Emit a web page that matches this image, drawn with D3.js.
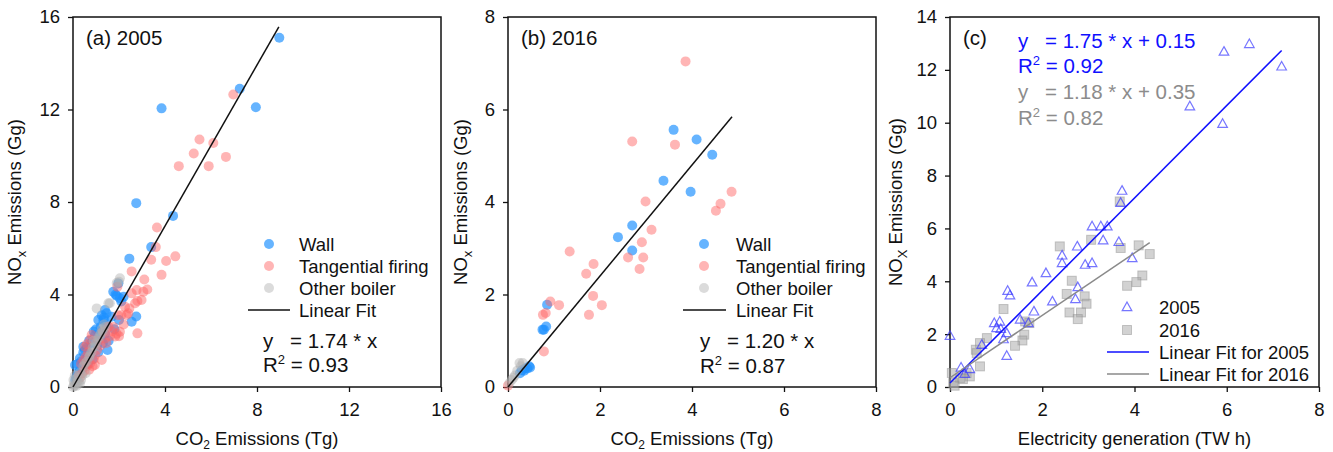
<!DOCTYPE html>
<html>
<head>
<meta charset="utf-8">
<script src="https://cdn.jsdelivr.net/npm/d3@7"></script>
<style>
  body { margin: 0; background: #fff; }
  text { font-family: "Liberation Sans", Arial, sans-serif; fill: #111; }
</style>
</head>
<body>
<svg id="chart" width="1333" height="452"></svg>
<script>
// ---- (a) 2005: NOx vs CO2 by boiler type ----
const wall2005 = [
  [8.97,15.1],[7.25,12.9],[7.95,12.1],[3.85,12.05],[2.75,7.95],[4.35,7.4],[3.4,6.05],[2.45,5.55],
  [2.75,3.05],[2.55,2.82],[1.75,4.12],[1.97,4.48],[2.04,3.84],[1.9,3.95],[2.1,3.7],[1.85,4.0],
  [1.39,3.33],[1.1,2.9],[1.32,2.9],[1.68,3.04],[1.25,3.1],[1.35,3.0],[1.45,2.7],[1.2,2.6],
  [1.0,2.5],[0.96,2.25],[0.9,2.4],[1.15,2.2],[1.3,1.9],[1.5,1.6],[1.05,1.8],[0.8,1.9],
  [0.7,2.0],[0.52,1.6],[0.6,1.7],[0.45,1.5],[0.3,1.24],[0.35,1.1],[0.2,1.0],[0.09,0.95],
  [0.23,0.6],[0.15,0.45],[0.1,0.3],[0.4,0.8],[0.55,1.2],[0.75,1.4],[0.85,1.2],[1.1,1.5],
  [1.4,2.3],[1.55,2.0],[1.8,2.5],[2.0,2.9],[0.65,1.0],[0.3,0.7],[2.2,3.9],[1.46,3.19],[0.45,1.74]
];
const tangential2005 = [
  [6.97,12.65],[5.5,10.7],[6.1,10.55],[5.25,10.1],[6.65,9.95],[4.6,9.55],[5.9,9.55],[3.65,6.9],
  [3.6,6.05],[3.4,5.5],[4.05,5.45],[4.45,5.65],[3.85,4.85],[2.55,5.0],[3.1,4.65],[2.77,4.19],
  [3.23,4.22],[2.8,3.72],[2.55,4.05],[2.45,3.4],[2.33,3.11],[2.8,2.32],[1.93,4.34],[3.06,4.12],
  [1.83,2.18],[2.04,2.39],[2.4,3.19],[2.7,3.62],[2.26,3.47],[2.98,3.76],[0.81,2.25],
  [0.52,1.74],[1.25,1.17],[0.74,1.02],[0.96,1.38],[1.54,2.61],[1.7,2.4],[1.9,2.3],[2.0,2.2],
  [1.6,2.2],[1.75,2.6],[1.4,2.1],[1.2,1.8],[1.05,1.6],[0.9,1.2],[0.6,0.9],[0.5,0.7],
  [0.7,0.75],[0.85,0.9],[0.4,0.6],[0.3,0.4],[0.55,1.3],[0.65,1.5],[1.1,2.0],[1.3,2.4],
  [0.75,2.05],[0.6,1.85],[2.1,3.1],[2.2,2.7],[1.95,3.1],[0.35,1.0],[0.45,1.15],[0.25,0.5],
  [1.45,1.9],[0.95,0.95]
];
const other2005 = [
  [2.04,4.7],[1.9,4.5],[2.0,4.55],[1.6,3.62],[1.54,3.62],[1.03,3.4],[1.1,2.1],[0.96,1.74],
  [0.74,1.38],[0.52,1.02],[0.3,0.63],[0.16,0.38],[0.06,0.05],[0.0,0.0],[0.05,0.15],[0.1,0.1],
  [0.2,0.25],[0.25,0.2],[0.35,0.3],[0.4,0.5],[0.6,1.1],[0.8,1.5],[0.85,1.7],[1.2,2.3],
  [1.3,2.4],[1.4,2.6],[1.25,2.5],[1.0,1.9],[0.7,1.3],[0.45,0.9],[0.15,0.05],[0.02,0.3],
  [0.08,0.5],[0.9,2.0],[1.15,2.2],[1.35,2.7],[0.55,0.6],[0.3,0.15]
];
const fit2005 = { slope: 1.74, intercept: 0, xEnd: 8.95, r2: "0.93" };

// ---- (b) 2016: NOx vs CO2 by boiler type ----
const wall2016 = [
  [3.6,5.56],[4.1,5.35],[4.44,5.02],[3.38,4.46],[3.97,4.22],[2.7,3.49],[2.39,3.24],[2.7,2.95],
  [0.85,1.78],[0.83,1.31],[0.75,1.24],[0.78,1.24],[0.46,0.45],[0.42,0.4],[0.37,0.4],[0.3,0.36],
  [0.48,0.42],[0.35,0.35],[0.26,0.3]
];
const tangential2016 = [
  [3.86,7.04],[2.7,5.31],[3.63,5.24],[2.99,4.01],[4.86,4.22],[4.62,3.96],[4.52,3.81],[3.12,3.4],
  [2.91,3.13],[2.94,2.8],[2.61,2.8],[2.86,2.55],[1.34,2.93],[1.86,2.66],[1.7,2.45],[1.85,1.97],
  [2.04,1.77],[1.76,1.56],[0.92,1.85],[1.11,1.77],[0.82,1.6],[0.76,1.56],[0.78,0.77],[0.0,0.03]
];
const other2016 = [
  [0.25,0.52],[0.32,0.52],[0.15,0.25],[0.08,0.15],[0.03,0.08],[0.2,0.35],[0.12,0.2],[0.28,0.45]
];
const fit2016 = { slope: 1.20, intercept: 0, xEnd: 4.87, r2: "0.87" };

// ---- (c) NOx vs electricity generation ----
const gen2005 = [
  [6.49,12.98],[5.94,12.69],[7.19,12.13],[5.2,10.62],[5.91,9.96],[3.73,7.43],[3.7,6.97],[3.08,6.08],
  [3.27,6.08],[3.41,6.08],[3.32,5.55],[3.66,5.49],[2.76,5.32],[2.43,4.98],[2.43,4.69],[3.08,4.69],
  [2.93,4.63],[3.95,4.88],[2.08,4.31],[1.78,3.96],[1.25,3.64],[1.3,3.47],[2.77,3.78],[2.72,3.33],
  [2.22,3.24],[1.82,2.86],[0.96,2.42],[1.08,2.48],[1.01,2.23],[1.1,2.2],[1.52,2.55],[1.7,2.42],
  [1.23,2.04],[1.16,1.81],[1.23,1.18],[0.0,1.94],[0.69,1.6],[0.24,0.74],[0.43,0.68],[0.32,0.5]
];
const gen2016 = [
  [3.68,7.02],[3.7,5.26],[3.06,5.57],[2.38,5.32],[4.09,5.36],[4.33,5.03],[2.64,4.02],[4.17,4.22],
  [4.04,3.97],[3.84,3.83],[2.53,3.52],[2.92,3.43],[2.96,3.15],[2.59,2.82],[2.84,2.82],[2.77,2.57],
  [1.16,2.95],[1.63,2.48],[1.72,2.42],[1.61,1.98],[1.57,1.76],[1.41,1.56],[0.8,1.85],[0.65,1.66],
  [0.56,1.41],[0.58,1.28],[0.65,0.78],[0.36,0.53],[0.22,0.34],[0.07,0.15],[0.1,0.05],[0.04,0.53],
  [0.43,0.4],[0.28,0.3]
];
const fitGen2005 = { slope: 1.75, intercept: 0.15, xEnd: 7.19, r2: "0.92" };
const fitGen2016 = { slope: 1.18, intercept: 0.35, xEnd: 4.33, r2: "0.82" };

const ticksCO2a = [0, 4, 8, 12, 16];
const ticksCO2b = [0, 2, 4, 6, 8];
const ticksGenX = [0, 2, 4, 6, 8];
const ticksGenY = [0, 2, 4, 6, 8, 10, 12, 14];

const boilerLabels = ["Wall", "Tangential firing", "Other boiler", "Linear Fit"];
const yearLabels = ["2005", "2016", "Linear Fit for 2005", "Linear Fit for 2016"];

const colors = {
  wall: "rgba(30,144,255,0.68)",
  tangential: "rgba(255,100,100,0.48)",
  other: "rgba(175,175,175,0.45)",
  tri: "rgba(60,60,255,0.7)",
  sqFill: "rgba(165,165,165,0.5)",
  sqStroke: "rgba(140,140,140,0.45)",
  blueLine: "#1010ff",
  grayLine: "#8a8a8a",
  eqGray: "#8c8c8c"
};

const svg = d3.select("#chart");
const FS = 18.5, FS_EQ = 20.5;

function makePanel(cfg) {
  const x = d3.scaleLinear().domain(cfg.xDomain).range([cfg.left, cfg.right]);
  const y = d3.scaleLinear().domain(cfg.yDomain).range([cfg.bottom, cfg.top]);
  const g = svg.append("g");

  // frame
  g.append("rect")
    .attr("x", cfg.left).attr("y", cfg.top)
    .attr("width", cfg.right - cfg.left).attr("height", cfg.bottom - cfg.top)
    .attr("fill", "none").attr("stroke", "#111").attr("stroke-width", 1.5);

  const ax = g.append("g").attr("transform", `translate(0,${cfg.bottom})`)
    .call(d3.axisBottom(x).tickValues(cfg.xTicks).tickSize(5).tickPadding(11).tickFormat(d3.format("d")));
  const ay = g.append("g").attr("transform", `translate(${cfg.left},0)`)
    .call(d3.axisLeft(y).tickValues(cfg.yTicks).tickSize(5).tickPadding(8).tickFormat(d3.format("d")));
  [ax, ay].forEach(a => {
    a.select(".domain").remove();
    a.selectAll(".tick line").attr("stroke", "#111").attr("stroke-width", 1.3);
    a.selectAll(".tick text").attr("font-size", FS).attr("font-family", "Liberation Sans, Arial, sans-serif").attr("fill", "#111");
  });

  // x title
  const xt = g.append("text").attr("x", (cfg.left + cfg.right) / 2).attr("y", 445)
    .attr("text-anchor", "middle").attr("font-size", FS);
  cfg.xTitle(xt);

  // y title
  const yt = g.append("text")
    .attr("transform", `translate(${cfg.yTitleX},${(cfg.top + cfg.bottom) / 2}) rotate(-90)`)
    .attr("text-anchor", "middle").attr("font-size", FS);
  yt.append("tspan").text("NO");
  yt.append("tspan").attr("font-size", 13).attr("dy", 5).text(cfg.noxSub);
  yt.append("tspan").attr("dy", -5).text(" Emissions (Gg)");

  // panel label
  g.append("text").attr("x", cfg.left + cfg.labelDx).attr("y", 45)
    .attr("font-size", FS_EQ).text(cfg.label);

  return { g, x, y };
}

function co2Title(t) {
  t.append("tspan").text("CO");
  t.append("tspan").attr("font-size", 12).attr("dy", 3.5).text("2");
  t.append("tspan").attr("dy", -3.5).text(" Emissions (Tg)");
}

function dots(p, data, color) {
  p.g.append("g").selectAll("circle").data(data).join("circle")
    .attr("cx", d => p.x(d[0])).attr("cy", d => p.y(d[1]))
    .attr("r", 5).attr("fill", color);
}

function fitLine(p, fit, color) {
  p.g.append("line")
    .attr("x1", p.x(0)).attr("y1", p.y(fit.intercept))
    .attr("x2", p.x(fit.xEnd)).attr("y2", p.y(fit.intercept + fit.slope * fit.xEnd))
    .attr("stroke", color).attr("stroke-width", 1.5);
}

function equation(p, x0, yEq, yR, fit, color, withIntercept) {
  const rhs = "= " + fit.slope.toFixed(2) + " * x" + (withIntercept ? " + " + fit.intercept.toFixed(2) : "");
  p.g.append("text").attr("x", x0).attr("y", yEq).attr("font-size", FS_EQ).style("fill", color).text("y");
  p.g.append("text").attr("x", x0 + 27).attr("y", yEq).attr("font-size", FS_EQ).style("fill", color).text(rhs);
  const r = p.g.append("text").attr("x", x0).attr("y", yR).attr("font-size", FS_EQ).style("fill", color);
  r.append("tspan").text("R");
  r.append("tspan").attr("font-size", 13).attr("dy", -8).text("2");
  r.append("tspan").attr("dy", 8).text(" = " + fit.r2);
}

function boilerLegend(p, symX, lineX1, lineX2, textX) {
  const rows = [244, 266, 288];
  const cols = [colors.wall, colors.tangential, colors.other];
  rows.forEach((cy, i) => {
    p.g.append("circle").attr("cx", symX).attr("cy", cy).attr("r", 5).attr("fill", cols[i]);
    p.g.append("text").attr("x", textX).attr("y", cy + 6.5).attr("font-size", FS).text(boilerLabels[i]);
  });
  p.g.append("line").attr("x1", lineX1).attr("x2", lineX2).attr("y1", 310).attr("y2", 310)
    .attr("stroke", "#111").attr("stroke-width", 1.5);
  p.g.append("text").attr("x", textX).attr("y", 316.5).attr("font-size", FS).text(boilerLabels[3]);
}

// ---------- panel (a) ----------
const pa = makePanel({
  left: 73, right: 441, top: 17, bottom: 387,
  xDomain: [0, 16], yDomain: [0, 16], xTicks: ticksCO2a, yTicks: ticksCO2a,
  xTitle: co2Title, yTitleX: 21, noxSub: "x", label: "(a) 2005", labelDx: 13
});
dots(pa, wall2005, colors.wall);
dots(pa, tangential2005, colors.tangential);
dots(pa, other2005, colors.other);
fitLine(pa, fit2005, "#111");
boilerLegend(pa, 269, 248, 290, 299);
equation(pa, 263, 348, 372, fit2005, "#111", false);

// ---------- panel (b) ----------
const pb = makePanel({
  left: 508, right: 876, top: 17, bottom: 387,
  xDomain: [0, 8], yDomain: [0, 8], xTicks: ticksCO2b, yTicks: ticksCO2b,
  xTitle: co2Title, yTitleX: 466.5, noxSub: "x", label: "(b) 2016", labelDx: 13
});
dots(pb, wall2016, colors.wall);
dots(pb, tangential2016, colors.tangential);
dots(pb, other2016, colors.other);
fitLine(pb, fit2016, "#111");
boilerLegend(pb, 704, 683, 726, 736);
equation(pb, 700, 348, 373, fit2016, "#111", false);

// ---------- panel (c) ----------
const pc = makePanel({
  left: 950, right: 1319, top: 17, bottom: 387,
  xDomain: [0, 8], yDomain: [0, 14], xTicks: ticksGenX, yTicks: ticksGenY,
  xTitle: t => t.text("Electricity generation (TW h)"), yTitleX: 901.5, noxSub: "X",
  label: "(c)", labelDx: 13
});
const triPath = "M0,-5 L4.8,3.6 L-4.8,3.6 Z";
pc.g.append("g").selectAll("rect").data(gen2016).join("rect")
  .attr("x", d => pc.x(d[0]) - 4.5).attr("y", d => pc.y(d[1]) - 4.5)
  .attr("width", 9).attr("height", 9)
  .attr("fill", colors.sqFill).attr("stroke", colors.sqStroke).attr("stroke-width", 1);
pc.g.append("g").selectAll("path").data(gen2005).join("path")
  .attr("d", triPath)
  .attr("transform", d => `translate(${pc.x(d[0])},${pc.y(d[1])})`)
  .attr("fill", "none").attr("stroke", colors.tri).attr("stroke-width", 1.2);
fitLine(pc, fitGen2005, colors.blueLine);
fitLine(pc, fitGen2016, colors.grayLine);
equation(pc, 1018, 48, 73, fitGen2005, "#1010ff", true);
equation(pc, 1018, 99, 124.5, fitGen2016, colors.eqGray, true);

// legend (c)
pc.g.append("path").attr("d", triPath).attr("transform", "translate(1127,307)")
  .attr("fill", "none").attr("stroke", colors.tri).attr("stroke-width", 1.2);
pc.g.append("rect").attr("x", 1122.5).attr("y", 325.5).attr("width", 9).attr("height", 9)
  .attr("fill", colors.sqFill).attr("stroke", colors.sqStroke);
pc.g.append("line").attr("x1", 1107).attr("x2", 1149).attr("y1", 352).attr("y2", 352)
  .attr("stroke", colors.blueLine).attr("stroke-width", 1.5);
pc.g.append("line").attr("x1", 1107).attr("x2", 1149).attr("y1", 374).attr("y2", 374)
  .attr("stroke", colors.grayLine).attr("stroke-width", 1.5);
[307, 330, 352, 374].forEach((cy, i) => {
  pc.g.append("text").attr("x", 1159).attr("y", cy + 6.5).attr("font-size", FS).text(yearLabels[i]);
});
</script>
</body>
</html>
